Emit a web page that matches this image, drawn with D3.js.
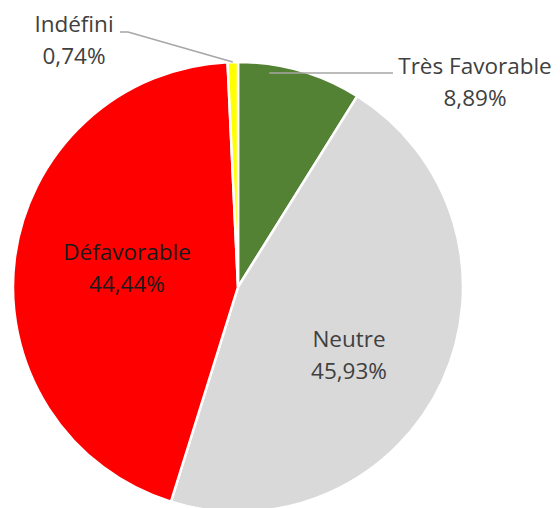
<!DOCTYPE html>
<html><head><meta charset="utf-8">
<script src="https://cdn.jsdelivr.net/npm/d3@7"></script>
<style>body{margin:0;background:#fff}svg{display:block}</style>
</head><body>
<svg id="c" width="560" height="508"></svg>
<script>
const categories = ["Très Favorable", "Neutre", "Défavorable", "Indéfini"];
const values = [8.89, 45.93, 44.44, 0.74];
const labels = ["8,89%", "45,93%", "44,44%", "0,74%"];
const colors = ["#548235", "#d9d9d9", "#ff0000", "#ffff00"];

const svg = d3.select("#c");
const cx = 238, cy = 287, r = 225;
const g = svg.append("g").attr("transform", `translate(${cx},${cy})`);
const data = categories.map((c, i) => ({cat: c, value: values[i], label: labels[i], color: colors[i]}));
const pie = d3.pie().value(d => d.value).sort(null);
const arc = d3.arc().innerRadius(0).outerRadius(r);
const arcs = pie(data);

g.selectAll("path").data(arcs).join("path")
  .attr("d", arc).attr("fill", d => d.data.color)
  .attr("stroke", "#fff").attr("stroke-width", 2.5);

// label layout (absolute positions of text centers / baselines)
const layout = [
  {x: 475, y: 74},
  {x: 349, y: 347},
  {x: 127, y: 260},
  {x: 74, y: 32}
];
const font = "'Open Sans', sans-serif";
const ed = a => [cx + r * Math.sin(a), cy - r * Math.cos(a)];
const pTF = ed((arcs[0].startAngle + arcs[0].endAngle) / 2 - 0.14);
svg.append("path").attr("fill", "none").attr("stroke", "#a6a6a6").attr("stroke-width", 1.5)
  .attr("d", `M${pTF[0]},73 L393,73`);
const pI = ed((arcs[3].startAngle + arcs[3].endAngle) / 2);
svg.append("path").attr("fill", "none").attr("stroke", "#a6a6a6").attr("stroke-width", 1.5)
  .attr("d", `M${pI[0]},${pI[1]} L128,32 L120,32`);

arcs.forEach((a, i) => {
  const L = layout[i];
  const t = svg.append("text").attr("text-anchor", "middle")
    .attr("font-family", font).attr("font-size", 22.5)
    .attr("fill", i === 2 ? "#1a1a1a" : "#404040");
  t.append("tspan").attr("x", L.x).attr("y", L.y).text(a.data.cat);
  t.append("tspan").attr("x", L.x).attr("y", L.y + 32).text(a.data.label);
});
</script>
</body></html>
